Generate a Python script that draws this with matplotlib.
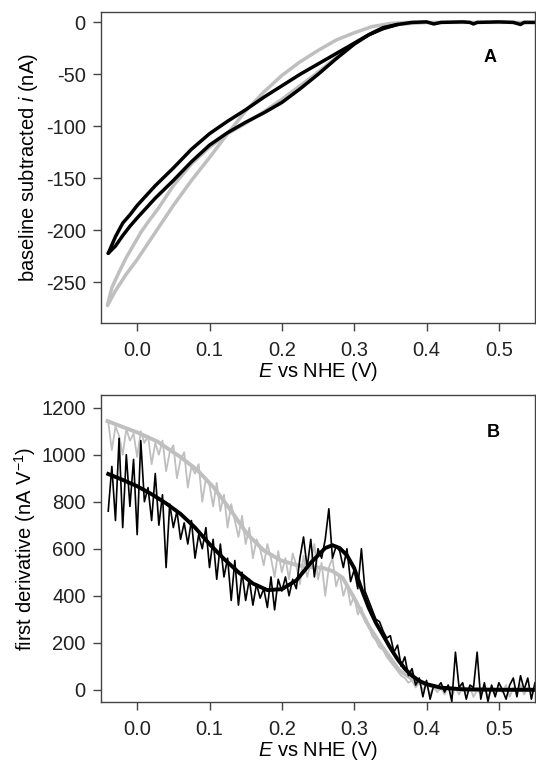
import numpy as np
import matplotlib
matplotlib.use('Agg')
import matplotlib.pyplot as plt

plt.rcParams['font.family'] = ['Liberation Sans', 'DejaVu Sans']
plt.rcParams['mathtext.fontset'] = 'custom'
plt.rcParams['mathtext.rm'] = 'Liberation Sans'
plt.rcParams['mathtext.it'] = 'Liberation Sans:italic'
plt.rcParams['font.size'] = 14.5

# ---- panel A: baseline subtracted CVs ----
# black loop, two branches from the switching potential
a_blk_up_E = [-0.040, -0.030, -0.020, -0.010, 0.000, 0.025, 0.050, 0.075, 0.100, 0.125,
              0.150, 0.175, 0.200, 0.225, 0.250, 0.275, 0.300, 0.320, 0.340, 0.360, 0.380,
              0.400, 0.410, 0.420, 0.450, 0.460, 0.465, 0.470, 0.500, 0.520, 0.530, 0.535, 0.550]
a_blk_up_i = [-222, -206, -193, -185, -176, -157, -140, -122, -107, -95,
              -84, -72, -61, -50, -40, -30, -20, -12, -6, -2, 0,
              0.5, -1.5, 0, 0.5, 0, -1.5, 0, 0.5, 0, -2, 0, 0]
a_blk_lo_E = [-0.040, -0.030, -0.020, -0.010, 0.000, 0.025, 0.050, 0.075, 0.100, 0.125,
              0.150, 0.175, 0.200, 0.225, 0.250, 0.275, 0.300, 0.320, 0.340, 0.360]
a_blk_lo_i = [-222, -215, -205, -196, -188, -169, -152, -134, -118, -106,
              -96, -87, -77, -64, -50, -35, -21, -12, -5, -2]

# grey loop
a_gry_out_E = [-0.041, -0.030, -0.015, 0.000, 0.025, 0.050, 0.075, 0.100, 0.125, 0.150,
               0.175, 0.200, 0.225, 0.250, 0.275, 0.300, 0.325, 0.350, 0.375, 0.400, 0.550]
a_gry_out_i = [-272, -258, -242, -228, -202, -176, -152, -130, -107, -85,
               -67, -51, -38, -27, -17, -10, -4, -1, 0, 0, 0]
a_gry_in_E = [-0.041, -0.035, -0.025, -0.015, -0.005, 0.005, 0.015, 0.030, 0.050, 0.075,
              0.100, 0.125, 0.150, 0.175, 0.200, 0.250, 0.300, 0.330, 0.360, 0.400]
a_gry_in_i = [-272, -255, -240, -226, -214, -202, -192, -178, -157, -136,
              -120, -107, -97, -86, -74, -48, -20, -8, -2, 0]

# ---- panel B: first derivatives ----
b_E = [-0.040, -0.035, -0.030, -0.025, -0.020, -0.015, -0.010, -0.005, 0.000, 0.005,
       0.010, 0.015, 0.020, 0.025, 0.030, 0.035, 0.040, 0.045, 0.050, 0.055,
       0.060, 0.065, 0.070, 0.075, 0.080, 0.085, 0.090, 0.095, 0.100, 0.105,
       0.110, 0.115, 0.120, 0.125, 0.130, 0.135, 0.140, 0.145, 0.150, 0.155,
       0.160, 0.165, 0.170, 0.175, 0.180, 0.185, 0.190, 0.195, 0.200, 0.205,
       0.210, 0.215, 0.220, 0.225, 0.230, 0.235, 0.240, 0.245, 0.250, 0.255,
       0.260, 0.265, 0.270, 0.275, 0.280, 0.285, 0.290, 0.295, 0.300, 0.305,
       0.310, 0.315, 0.320, 0.325, 0.330, 0.335, 0.340, 0.345, 0.350, 0.355,
       0.360, 0.365, 0.370, 0.375, 0.380, 0.385, 0.390, 0.395, 0.400, 0.405,
       0.410, 0.415, 0.420, 0.425, 0.430, 0.435, 0.440, 0.445, 0.450, 0.455,
       0.460, 0.465, 0.470, 0.475, 0.480, 0.485, 0.490, 0.495, 0.500, 0.505,
       0.510, 0.515, 0.520, 0.525, 0.530, 0.535, 0.540, 0.545, 0.550]
b_blk_raw = [760, 950, 720, 1070, 690, 1000, 780, 980, 660, 1060,
             800, 860, 720, 920, 700, 830, 520, 790, 690, 760,
             640, 710, 620, 720, 560, 660, 600, 690, 520, 640,
             470, 620, 480, 560, 380, 550, 360, 500, 380, 470,
             360, 450, 390, 430, 350, 480, 340, 470, 420, 480,
             400, 470, 430, 560, 650, 520, 640, 480, 600, 560,
             640, 770, 560, 610, 590, 520, 600, 460, 510, 430,
             600, 420, 380, 340, 300, 290, 250, 220, 230, 160,
             190, 100, 140, 60, 90, 20, 50, -30, 40, -40,
             20, 10, 30, -10, 20, -50, 160, 10, 30, -40,
             20, 10, 160, -40, 30, -50, 20, -30, 30, 0,
             -40, 20, 50, -30, 60, 0, 50, -40, 30]
b_gry_raw = [1140, 1020, 1120, 1080, 1000, 1110, 1060, 1090, 990, 1100,
             1050, 1080, 960, 1050, 1000, 1060, 930, 1010, 1040, 900,
             980, 1010, 860, 950, 920, 960, 800, 900, 870, 780,
             880, 760, 830, 690, 790, 720, 650, 740, 620, 690,
             560, 640, 600, 530, 620, 560, 480, 590, 500, 560,
             470, 580, 530, 450, 570, 480, 540, 620, 470, 540,
             400, 520, 560, 440, 490, 400, 450, 360, 400, 320,
             350, 290, 270, 230, 210, 180, 170, 140, 120, 100,
             80, 60, 50, 30, 40, 10, 30, 0, 20, -20,
             10, -10, 10, -20, 20, -30, 10, -20, 20, -10,
             10, -30, 0, -20, 10, -30, 0, -20, 10, -10,
             20, -30, 10, -10, 20, -20, 10, -10, 10]

# smoothed fits
b_blk_fit_E = [-0.040, -0.020, 0.000, 0.020, 0.040, 0.060, 0.080, 0.100, 0.120, 0.140,
               0.160, 0.180, 0.200, 0.220, 0.240, 0.260, 0.270, 0.280, 0.290, 0.300,
               0.310, 0.320, 0.330, 0.340, 0.350, 0.360, 0.370, 0.380, 0.390, 0.400,
               0.420, 0.450, 0.500, 0.550]
b_blk_fit = [918, 893, 866, 832, 793, 748, 690, 620, 557, 500,
             452, 424, 428, 465, 540, 603, 615, 603, 572, 518,
             430, 350, 285, 232, 178, 130, 90, 60, 38, 24,
             9, 2, 0, 0]
b_gry_fit_E = [-0.041, -0.020, 0.000, 0.028, 0.060, 0.083, 0.106, 0.129, 0.152, 0.175,
               0.198, 0.221, 0.240, 0.256, 0.270, 0.284, 0.302, 0.321, 0.339, 0.362,
               0.385, 0.417, 0.450, 0.500, 0.550]
b_gry_fit = [1143, 1118, 1095, 1056, 990, 935, 860, 765, 663, 593,
             551, 530, 522, 519, 505, 477, 379, 267, 182, 84,
             35, 7, 1, 0, 0]

GREY = '#bfbfbf'
AXC = '#444444'

fig = plt.figure(figsize=(5.36, 7.61), dpi=100)
axA = fig.add_axes([101/536, 1 - 323/761, 434/536, 311/761])
axB = fig.add_axes([101/536, 1 - 702/761, 434/536, 307/761])

axA.plot(a_gry_out_E, a_gry_out_i, color=GREY, lw=2.5, solid_capstyle='round')
axA.plot(a_gry_in_E, a_gry_in_i, color=GREY, lw=2.5, solid_capstyle='round')
axA.plot(a_blk_lo_E, a_blk_lo_i, color='k', lw=2.5, solid_capstyle='round')
axA.plot(a_blk_up_E, a_blk_up_i, color='k', lw=2.5, solid_capstyle='round')
axA.set_ylim(-289, 10)
axA.set_yticks([0, -50, -100, -150, -200, -250])
axA.set_yticklabels(['0', '-50', '-100', '-150', '-200', '-250'])
axA.set_ylabel('baseline subtracted $i$ (nA)')
axA.text(0.896, 0.855, 'A', transform=axA.transAxes, ha='center', va='center',
         fontweight='bold', fontsize=13)

axB.plot(b_E, b_gry_raw, color=GREY, lw=1.3)
axB.plot(b_gry_fit_E, b_gry_fit, color=GREY, lw=2.8)
axB.plot(b_E, b_blk_raw, color='k', lw=1.2)
axB.plot(b_blk_fit_E, b_blk_fit, color='k', lw=2.8)
axB.set_ylim(-52, 1254)
axB.set_yticks([0, 200, 400, 600, 800, 1000, 1200])
axB.set_ylabel('first derivative (nA V$^{-1}$)')
axB.text(0.903, 0.879, 'B', transform=axB.transAxes, ha='center', va='center',
         fontweight='bold', fontsize=13)

for ax in (axA, axB):
    ax.set_xlim(-0.05, 0.55)
    ax.set_xticks([0.0, 0.1, 0.2, 0.3, 0.4, 0.5])
    ax.set_xticklabels(['0.0', '0.1', '0.2', '0.3', '0.4', '0.5'])
    ax.set_xlabel('$E$ vs NHE (V)')
    ax.tick_params(direction='out', length=6, width=1, color=AXC,
                   labelcolor='#222222', pad=5)
    ax.tick_params(axis='x', pad=7)
    for s in ax.spines.values():
        s.set_color(AXC)
        s.set_linewidth(1)
    ax.xaxis.set_label_coords(0.5, -0.12)
axA.yaxis.set_label_coords(-0.14, 0.5)
axB.yaxis.set_label_coords(-0.145, 0.5)

fig.savefig('out.png', dpi=100)
